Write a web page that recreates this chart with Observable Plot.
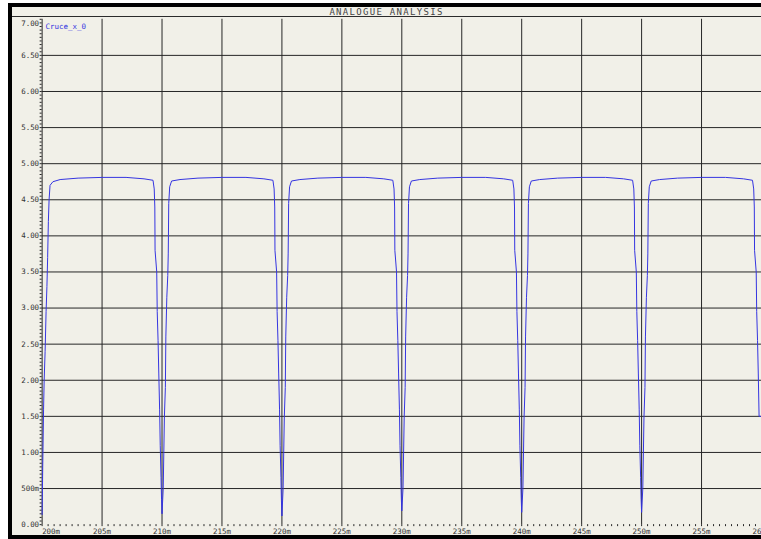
<!DOCTYPE html>
<html>
<head>
<meta charset="utf-8">
<script src="https://cdn.jsdelivr.net/npm/d3@7"></script>
<script src="https://cdn.jsdelivr.net/npm/@observablehq/plot@0.6"></script>
<style>
  html, body { margin: 0; padding: 0; background: #ffffff; }
  body { width: 761px; height: 539px; overflow: hidden; position: relative; }
  #frame { position: absolute; left: 8px; top: 3px; width: 760px; height: 536px; background: #000; }
  #inner { position: absolute; left: 12px; top: 7px; width: 760px; height: 528px; background: #f1f0e8; }
  #title { position: absolute; left: 12px; top: 7px; width: 749px; height: 9px; border-bottom: 1px solid #2b2b2b;
           font-family: "DejaVu Sans Mono", monospace; font-size: 9px; line-height: 10px; letter-spacing: 1.3px;
           color: #454545; text-align: center; overflow: hidden; }
  #chart { position: absolute; left: 12px; top: 17px; }
</style>
</head>
<body>
<div id="frame"></div>
<div id="inner"></div>
<div id="title">ANALOGUE ANALYSIS</div>
<div id="chart"></div>
<script>
// Tick values and labels
const yTicks = [0, 0.5, 1, 1.5, 2, 2.5, 3, 3.5, 4, 4.5, 5, 5.5, 6, 6.5, 7];
const yTickLabels = ["0.00", "500m", "1.00", "1.50", "2.00", "2.50", "3.00", "3.50", "4.00", "4.50", "5.00", "5.50", "6.00", "6.50", "7.00"];
const xTicks = [200, 205, 210, 215, 220, 225, 230, 235, 240, 245, 250, 255, 260];
const xTickLabels = ["200m", "205m", "210m", "215m", "220m", "225m", "230m", "235m", "240m", "245m", "250m", "255m", "260m"];
const seriesName = "Cruce_x_0";

// Trace Cruce_x_0: time (ms) and voltage (V)
const timeMs = [
  200.00, 200.05, 200.12, 200.17, 200.25, 200.33, 200.40, 200.46, 200.52, 200.58, 200.66, 200.90, 201.50, 203.00, 205.00, 207.00, 208.50, 209.25, 209.35, 209.40, 209.42, 209.56, 209.60, 209.67, 209.73, 209.80, 209.85, 209.92, 209.96,
  210.00, 210.10, 210.15, 210.20, 210.28, 210.32, 210.40, 210.48, 210.52, 210.56, 210.64, 210.80, 211.50, 213.00, 215.00, 217.00, 218.50, 219.25, 219.35, 219.40, 219.42, 219.56, 219.60, 219.67, 219.73, 219.80, 219.85, 219.92, 219.96,
  220.00, 220.10, 220.15, 220.20, 220.28, 220.32, 220.40, 220.48, 220.52, 220.56, 220.64, 220.80, 221.50, 223.00, 225.00, 227.00, 228.50, 229.25, 229.35, 229.40, 229.42, 229.56, 229.60, 229.67, 229.73, 229.80, 229.85, 229.92, 229.96,
  230.00, 230.10, 230.15, 230.20, 230.28, 230.32, 230.40, 230.48, 230.52, 230.56, 230.64, 230.80, 231.50, 233.00, 235.00, 237.00, 238.50, 239.25, 239.35, 239.40, 239.42, 239.56, 239.60, 239.67, 239.73, 239.80, 239.85, 239.92, 239.96,
  240.00, 240.10, 240.15, 240.20, 240.28, 240.32, 240.40, 240.48, 240.52, 240.56, 240.64, 240.80, 241.50, 243.00, 245.00, 247.00, 248.50, 249.25, 249.35, 249.40, 249.42, 249.56, 249.60, 249.67, 249.73, 249.80, 249.85, 249.92, 249.96,
  250.00, 250.10, 250.15, 250.20, 250.28, 250.32, 250.40, 250.48, 250.52, 250.56, 250.64, 250.80, 251.50, 253.00, 255.00, 257.00, 258.50, 259.25, 259.35, 259.40, 259.42, 259.56, 259.60, 259.67, 259.73, 259.80, 260.00
];
const voltage = [
  0.14, 0.80, 1.60, 2.00, 2.40, 2.95, 3.30, 3.70, 4.20, 4.50, 4.70, 4.75, 4.78, 4.80, 4.81, 4.81, 4.79, 4.77, 4.65, 4.40, 3.80, 3.50, 2.95, 2.55, 2.10, 1.60, 1.10, 0.65, 0.35,
  0.15, 0.50, 1.00, 1.50, 1.90, 2.60, 3.15, 3.45, 3.75, 4.45, 4.68, 4.76, 4.78, 4.80, 4.81, 4.81, 4.79, 4.77, 4.65, 4.40, 3.80, 3.50, 2.95, 2.55, 2.10, 1.60, 1.10, 0.65, 0.33,
  0.12, 0.50, 1.00, 1.50, 1.90, 2.60, 3.15, 3.45, 3.75, 4.45, 4.68, 4.76, 4.78, 4.80, 4.81, 4.81, 4.79, 4.77, 4.65, 4.40, 3.80, 3.50, 2.95, 2.55, 2.10, 1.60, 1.10, 0.65, 0.36,
  0.19, 0.50, 1.00, 1.50, 1.90, 2.60, 3.15, 3.45, 3.75, 4.45, 4.68, 4.76, 4.78, 4.80, 4.81, 4.81, 4.79, 4.77, 4.65, 4.40, 3.80, 3.50, 2.95, 2.55, 2.10, 1.60, 1.10, 0.65, 0.36,
  0.17, 0.50, 1.00, 1.50, 1.90, 2.60, 3.15, 3.45, 3.75, 4.45, 4.68, 4.76, 4.78, 4.80, 4.81, 4.81, 4.79, 4.77, 4.65, 4.40, 3.80, 3.50, 2.95, 2.55, 2.10, 1.60, 1.10, 0.65, 0.35,
  0.17, 0.50, 1.00, 1.50, 1.90, 2.60, 3.15, 3.45, 3.75, 4.45, 4.68, 4.76, 4.78, 4.80, 4.81, 4.81, 4.79, 4.77, 4.65, 4.40, 3.80, 3.50, 2.95, 2.55, 2.10, 1.50, 1.50
];

const trace = timeMs.map((t, i) => ({t, v: voltage[i]}));
const yMinor = d3.range(0, 7.0001, 0.05);
const xMinor = d3.range(200, 260.0001, 0.5);
const gridColor = "#262626";
const traceColor = "#3434e0";
const labelOf = (ticks, labels) => d => labels[ticks.indexOf(d)];

const chart = Plot.plot({
  width: 751,
  height: 518,
  marginLeft: 29.7,
  marginRight: 0,
  marginTop: 1.8,
  marginBottom: 9.5,
  x: {domain: [200, 260], axis: null, label: null},
  y: {domain: [0, 7], axis: null, label: null},
  style: {background: "#f1f0e8", color: "#333", fontFamily: "DejaVu Sans Mono, monospace", fontSize: "7.5px", overflow: "visible"},
  marks: [
    Plot.ruleY(yTicks.filter(v => v > 0 && v < 7), {stroke: gridColor}),
    Plot.ruleX(xTicks.filter(v => v < 260), {stroke: gridColor}),
    Plot.axisY(yMinor, {anchor: "left", tickSize: 2, tickFormat: () => "", stroke: gridColor, label: null}),
    Plot.axisX(xMinor, {anchor: "bottom", tickSize: 2, tickFormat: () => "", stroke: gridColor, label: null}),
    Plot.axisY(yTicks.slice(0, -1), {anchor: "left", tickSize: 0, tickPadding: 3, tickFormat: labelOf(yTicks, yTickLabels), label: null}),
    Plot.text([yTicks[yTicks.length - 1]], {x: 200, y: d => d, text: labelOf(yTicks, yTickLabels), textAnchor: "end", dx: -3, dy: 4, fill: "#333"}),
    Plot.axisX(xTicks.slice(1), {anchor: "bottom", tickSize: 0, tickPadding: 4.5, tickFormat: labelOf(xTicks, xTickLabels), label: null}),
    Plot.text([xTicks[0]], {x: d => d, y: 0, text: labelOf(xTicks, xTickLabels), textAnchor: "start", lineAnchor: "top", dy: 4.5, fill: "#333"}),
    Plot.line(trace, {x: "t", y: "v", stroke: traceColor, strokeWidth: 1}),
    Plot.text([seriesName], {frameAnchor: "top-left", text: d => d, dx: 3.5, dy: 4, fill: traceColor, textAnchor: "start"})
  ]
});
document.getElementById("chart").appendChild(chart);
</script>
</body>
</html>
